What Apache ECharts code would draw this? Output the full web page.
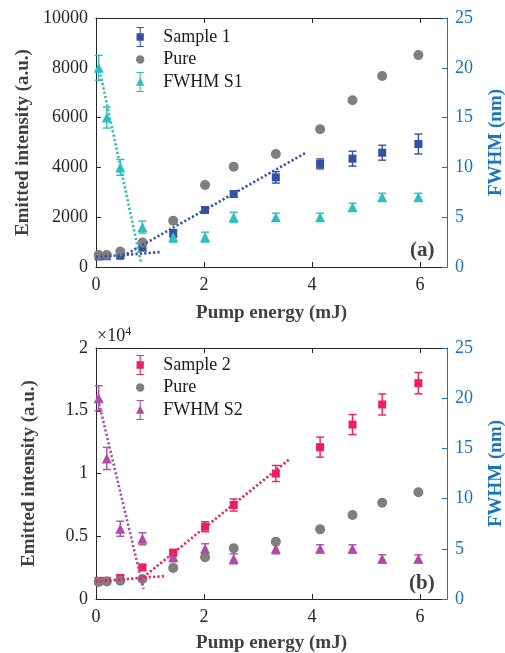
<!DOCTYPE html>
<html>
<head>
<meta charset="utf-8">
<script src="https://cdn.jsdelivr.net/npm/echarts@6/dist/echarts.min.js"></script>
<style>
  html, body { margin: 0; padding: 0; background: #fff; }
  #chart { width: 505px; height: 653px; }
</style>
</head>
<body>
<div id="chart"></div>
<script>
// pump energies (mJ), shared by every series
const energy = [0.05, 0.2, 0.45, 0.86, 1.43, 2.02, 2.55, 3.33, 4.15, 4.75, 5.3, 5.97]

// panel (a)
const sample1 = [420, 430, 450, 780, 1350, 2290, 2930, 3600, 4140, 4350, 4590, 4940]
const sample1Err = [80, 80, 80, 120, 150, 120, 120, 230, 200, 300, 300, 400]
const pure1 = [480, 480, 620, 980, 1860, 3290, 4030, 4540, 5530, 6700, 7670, 8510]
const fwhm1 = [20, 15, 10, 4, 3, 3, 5, 5, 5, 6, 7, 7]
const fwhm1Err = [1.25, 1.05, 0.8, 0.6, 0.5, 0.5, 0.5, 0.4, 0.4, 0.4, 0.4, 0.4]
const fit1Low = [[0, 400], [1.2, 600]]
const fit1High = [[0.5, 440], [3.87, 4570]]
const fitFwhm1 = [[0.05, 20.2], [0.83, 0.55]]

// panel (b)
const sample2 = [1450, 1450, 1680, 2520, 3690, 5760, 7490, 10000, 12100, 13900, 15500, 17200]
const sample2Err = [200, 200, 200, 200, 250, 400, 480, 640, 800, 800, 840, 850]
const pure2 = [1350, 1400, 1460, 1600, 2480, 3320, 4040, 4570, 5550, 6690, 7670, 8500]
const fwhm2 = [20, 14, 7, 6, 4.2, 5, 4, 5, 5, 5, 4, 4]
const fwhm2Err = [1.25, 1.1, 0.75, 0.6, 0.5, 0.5, 0.5, 0.5, 0.4, 0.4, 0.4, 0.4]
const fit2Low = [[0, 1400], [1.3, 1840]]
const fit2High = [[0.81, 1510], [3.58, 11130]]
const fitFwhm2 = [[0.02, 20.3], [0.88, 1.0]]

const xTicks = [0, 2, 4, 6]

const serif = '"Liberation Serif", "DejaVu Serif", serif'
const ink = '#262626'
const titleGrey = '#404040'
const axisBlue = '#1874BE'
const blue = '#3352A5'
const grey = '#7F7F7F'
const cyan = '#2BBFBF'
const pink = '#EE1F5C'
const purple = '#B04BA6'

const barIcon = 'M1,0H9V1.2H1Z M4.4,0H5.6V22H4.4Z M1,20.8H9V22H1Z '
const squareIcon = 'path://' + barIcon + 'M1,7H9V15H1Z'
const triIcon = 'path://' + barIcon + 'M5,6L9.6,15H0.4Z'
const dotIcon = 'path://M5,0Z M5,22Z M9.6,11A4.6,4.6,0,1,1,0.4,11A4.6,4.6,0,1,1,9.6,11Z'

const pairs = (ys) => energy.map((x, i) => [x, ys[i]])
const triples = (ys, es) => energy.map((x, i) => [x, ys[i], es[i]])

function errorBars(color) {
    return function (params, api) {
        const x = api.value(0), y = api.value(1), e = api.value(2)
        const hi = api.coord([x, y + e])
        const lo = api.coord([x, y - e])
        const w = 4
        const style = { stroke: color, lineWidth: 1.4 }
        return {
            type: 'group',
            children: [
                { type: 'line', shape: { x1: hi[0], y1: hi[1], x2: lo[0], y2: lo[1] }, style },
                { type: 'line', shape: { x1: hi[0] - w, y1: hi[1], x2: hi[0] + w, y2: hi[1] }, style },
                { type: 'line', shape: { x1: lo[0] - w, y1: lo[1], x2: lo[0] + w, y2: lo[1] }, style }
            ]
        }
    }
}

function xBottom(gridIndex, nameGap) {
    return {
        type: 'value', gridIndex, position: 'bottom', min: 0, max: 6.5,
        name: 'Pump energy (mJ)', nameLocation: 'middle', nameGap,
        nameTextStyle: { fontFamily: serif, fontSize: 19, fontWeight: 'bold', color: titleGrey },
        axisLine: { onZero: false, lineStyle: { color: ink, width: 1 } },
        axisTick: { inside: true, length: 5, customValues: xTicks, lineStyle: { color: ink } },
        axisLabel: { fontFamily: serif, fontSize: 18, color: ink, margin: 9, customValues: xTicks },
        splitLine: { show: false }
    }
}

function xTop(gridIndex) {
    return {
        type: 'value', gridIndex, position: 'top', min: 0, max: 6.5,
        axisLine: { onZero: false, lineStyle: { color: ink, width: 1 } },
        axisTick: { inside: true, length: 5, customValues: xTicks, lineStyle: { color: ink } },
        axisLabel: { show: false },
        splitLine: { show: false }
    }
}

function yLeft(gridIndex, max, interval, formatter) {
    return {
        type: 'value', gridIndex, position: 'left', min: 0, max, interval,
        name: 'Emitted intensity (a.u.)', nameLocation: 'middle', nameGap: 57, nameRotate: 90,
        nameTextStyle: { fontFamily: serif, fontSize: 19, fontWeight: 'bold', color: titleGrey },
        axisLine: { show: true, onZero: false, lineStyle: { color: ink, width: 1 } },
        axisTick: { show: true, inside: true, length: 5, lineStyle: { color: ink } },
        axisLabel: { fontFamily: serif, fontSize: 18, color: ink, margin: 8, formatter },
        splitLine: { show: false }
    }
}

function yRight(gridIndex) {
    return {
        type: 'value', gridIndex, position: 'right', min: 0, max: 25, interval: 5,
        name: 'FWHM (nm)', nameLocation: 'middle', nameGap: 40, nameRotate: 90,
        nameTextStyle: { fontFamily: serif, fontSize: 19, fontWeight: 'bold', color: axisBlue },
        axisLine: { show: true, onZero: false, lineStyle: { color: axisBlue, width: 1 } },
        axisTick: { show: true, inside: true, length: 5, lineStyle: { color: axisBlue } },
        axisLabel: { fontFamily: serif, fontSize: 18, color: axisBlue, margin: 8 },
        splitLine: { show: false }
    }
}

function scatter(name, data, xi, yi, symbol, size, color) {
    return {
        name, type: 'scatter', xAxisIndex: xi, yAxisIndex: yi, data,
        symbol, symbolSize: size, itemStyle: { color, opacity: 1 }, z: 3
    }
}

function bars(data, xi, yi, color) {
    return {
        type: 'custom', xAxisIndex: xi, yAxisIndex: yi, data,
        encode: { x: 0, y: 1 }, renderItem: errorBars(color), z: 2, silent: true
    }
}

function fit(data, xi, yi, color) {
    return {
        type: 'line', xAxisIndex: xi, yAxisIndex: yi, data,
        showSymbol: false, symbol: 'none', silent: true, z: 4,
        lineStyle: { color, width: 2.6, type: [2.2, 2.2] }
    }
}

function legend(top, names, icons) {
    return {
        left: 131, top, orient: 'vertical', itemWidth: 36, itemHeight: 20, itemGap: 2.5,
        selectedMode: false,
        textStyle: { fontFamily: serif, fontSize: 18, color: '#1a1a1a' },
        data: names.map((name, i) => ({ name, icon: icons[i] }))
    }
}

const chart = echarts.init(document.getElementById('chart'))

chart.setOption({
    animation: false,
    backgroundColor: '#fff',
    grid: [
        { left: 96, top: 18, width: 351, height: 249, outerBoundsMode: 'none' },
        { left: 96, top: 348, width: 351, height: 251, outerBoundsMode: 'none' }
    ],
    xAxis: [xBottom(0, 37), xTop(0), xBottom(1, 35), xTop(1)],
    yAxis: [
        yLeft(0, 10000, 2000, (v) => String(v)),
        yRight(0),
        yLeft(1, 20000, 5000, (v) => String(v / 10000)),
        yRight(1)
    ],
    legend: [
        legend(22, ['Sample 1', 'Pure', 'FWHM S1'], [squareIcon, dotIcon, triIcon]),
        legend(350, ['Sample 2', 'Pure', 'FWHM S2'], [squareIcon, dotIcon, triIcon])
    ],
    graphic: [
        {
            type: 'text', left: 410, top: 240,
            style: { text: '(a)', font: 'bold 21px ' + serif, fill: titleGrey }
        },
        {
            type: 'text', left: 409, top: 573,
            style: { text: '(b)', font: 'bold 21px ' + serif, fill: titleGrey }
        },
        {
            type: 'text', left: 97, top: 326,
            style: {
                text: '×10{sup|4}',
                font: '18px ' + serif, fill: ink,
                rich: { sup: { fontFamily: serif, fontSize: 12, verticalAlign: 'top', padding: [0, 0, 8, 0], fill: ink } }
            }
        }
    ],
    series: [
        // panel (a)
        bars(triples(sample1, sample1Err), 0, 0, blue),
        scatter('Sample 1', pairs(sample1), 0, 0, 'rect', 8, blue),
        scatter('Pure', pairs(pure1), 0, 0, 'circle', 10, grey),
        bars(triples(fwhm1, fwhm1Err), 0, 1, cyan),
        scatter('FWHM S1', pairs(fwhm1), 0, 1, 'triangle', 10, cyan),
        fit(fit1Low, 0, 0, blue),
        fit(fit1High, 0, 0, blue),
        fit(fitFwhm1, 0, 1, cyan),
        // panel (b)
        bars(triples(sample2, sample2Err), 2, 2, pink),
        scatter('Sample 2', pairs(sample2), 2, 2, 'rect', 8, pink),
        scatter('Pure', pairs(pure2), 2, 2, 'circle', 10, grey),
        bars(triples(fwhm2, fwhm2Err), 2, 3, purple),
        scatter('FWHM S2', pairs(fwhm2), 2, 3, 'triangle', 10, purple),
        fit(fit2Low, 2, 2, pink),
        fit(fit2High, 2, 2, pink),
        fit(fitFwhm2, 2, 3, purple)
    ]
})

window.addEventListener('resize', () => {
    chart.resize()
})
</script>
</body>
</html>
